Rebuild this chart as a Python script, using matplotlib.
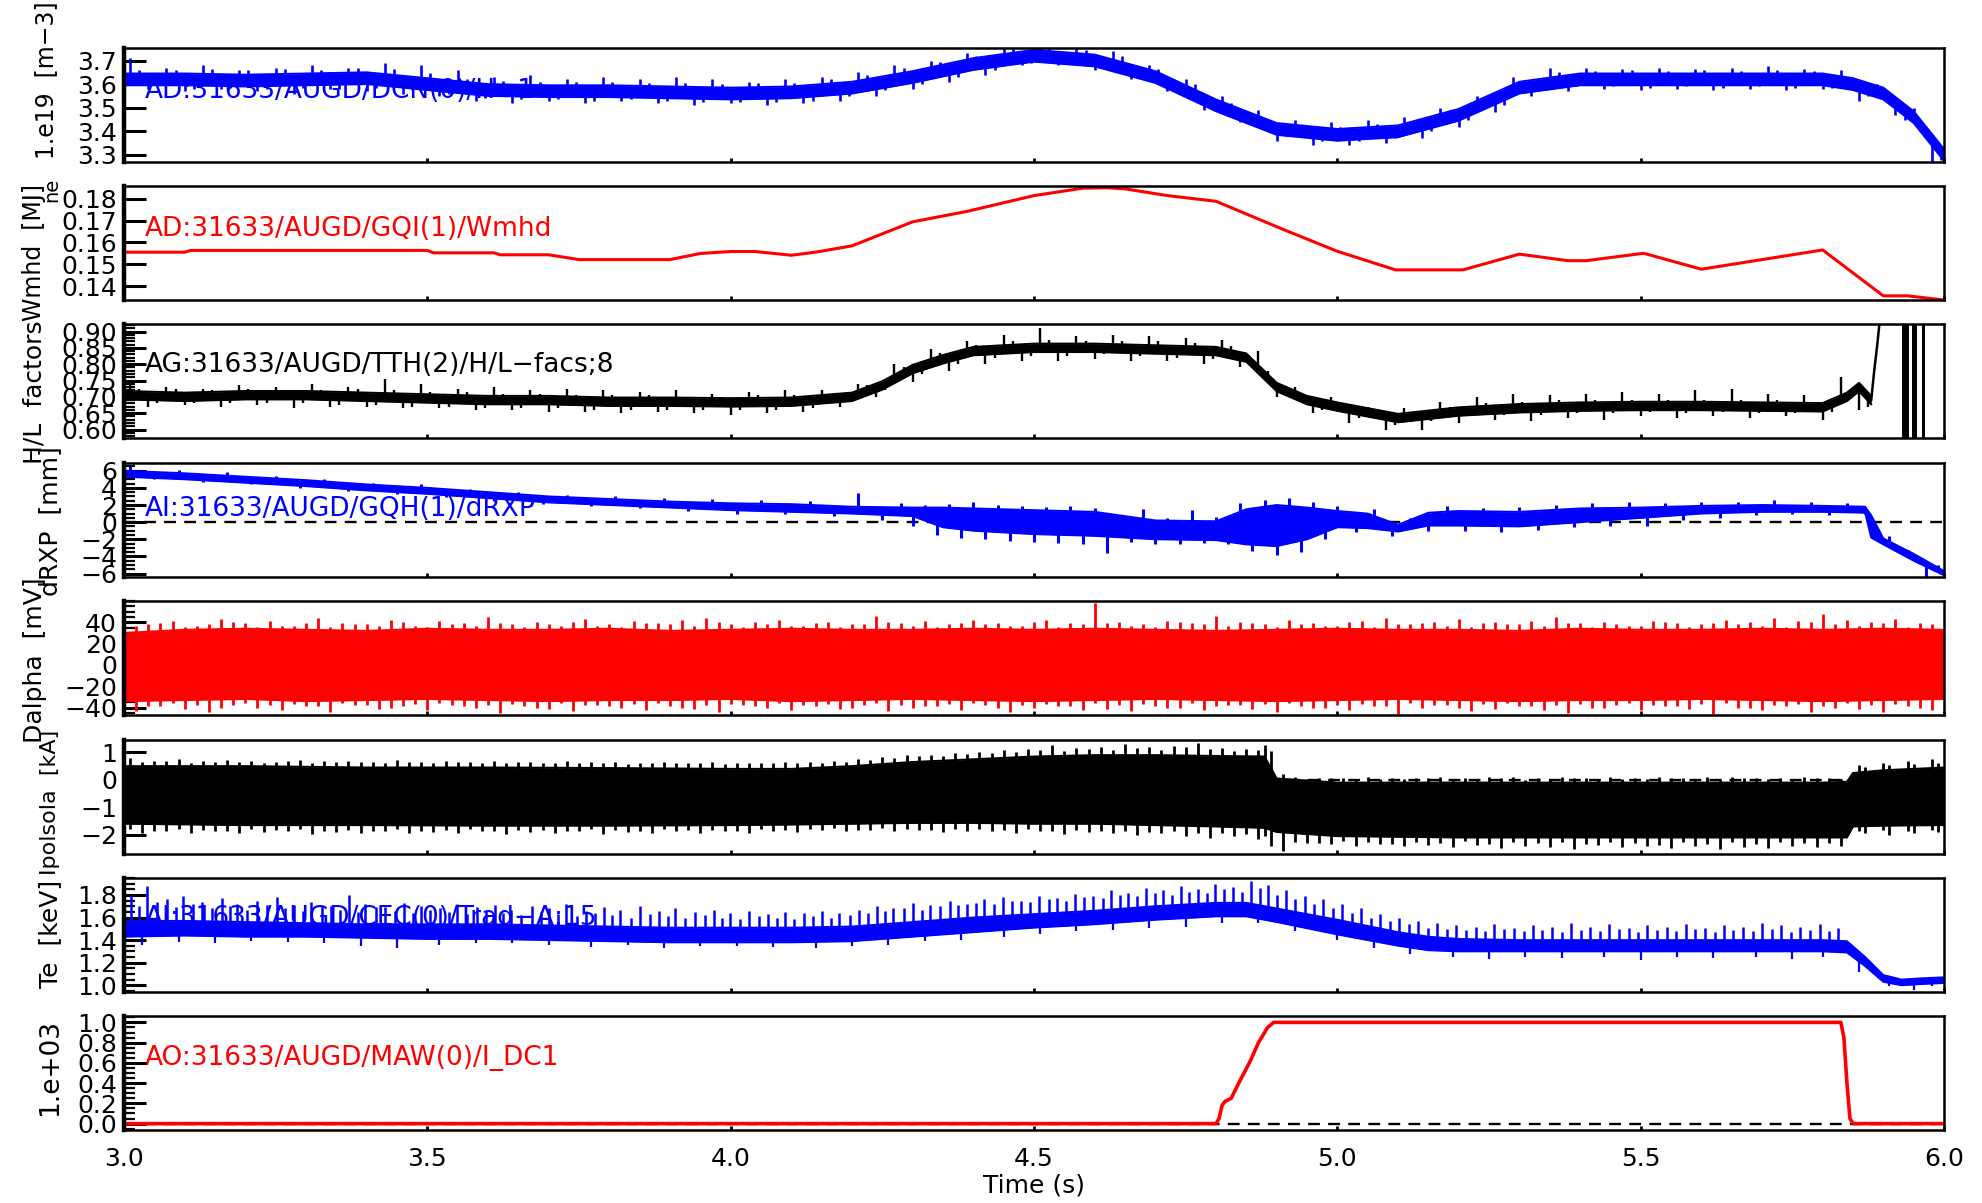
import numpy as np
import matplotlib.pyplot as plt
from matplotlib.ticker import MultipleLocator

plt.rcParams['font.family'] = ['DejaVu Sans']

# time axis
t_ticks = [3.0, 3.5, 4.0, 4.5, 5.0, 5.5, 6.0]
t_labels = ['3.0', '3.5', '4.0', '4.5', '5.0', '5.5', '6.0']

# line averaged density, DCN H-1 (1e19 m^-3)
ne_t = [3.0, 3.1, 3.2, 3.3, 3.4, 3.5, 3.6, 3.7, 3.8, 3.9, 4.0, 4.1, 4.2, 4.3, 4.4, 4.5, 4.6,
        4.7, 4.8, 4.9, 5.0, 5.1, 5.2, 5.3, 5.4, 5.5, 5.6, 5.7, 5.8, 5.85, 5.9, 5.95, 6.0]
ne_mid = [3.62, 3.62, 3.615, 3.62, 3.625, 3.60, 3.575, 3.57, 3.57, 3.565, 3.56, 3.565, 3.585,
          3.63, 3.685, 3.72, 3.70, 3.63, 3.51, 3.41, 3.385, 3.40, 3.47, 3.585, 3.62, 3.62,
          3.62, 3.62, 3.62, 3.60, 3.56, 3.46, 3.30]
ne_band = 0.025
# (time, value) of the noise excursions
ne_spk = [(3.01, 3.71), (3.04, 3.58), (3.07, 3.67), (3.10, 3.57), (3.13, 3.68), (3.16, 3.58),
          (3.19, 3.66), (3.22, 3.57), (3.25, 3.67), (3.28, 3.56), (3.31, 3.68), (3.34, 3.58),
          (3.37, 3.67), (3.40, 3.57), (3.43, 3.69), (3.46, 3.56), (3.49, 3.68), (3.52, 3.55),
          (3.55, 3.66), (3.58, 3.53), (3.61, 3.63), (3.64, 3.52), (3.67, 3.64), (3.70, 3.53),
          (3.73, 3.62), (3.76, 3.52), (3.79, 3.63), (3.82, 3.53), (3.85, 3.62), (3.88, 3.52),
          (3.91, 3.63), (3.94, 3.51), (3.97, 3.62), (4.00, 3.52), (4.03, 3.61), (4.06, 3.51),
          (4.09, 3.62), (4.12, 3.52), (4.15, 3.63), (4.18, 3.53), (4.21, 3.65), (4.24, 3.55),
          (4.27, 3.68), (4.30, 3.58), (4.33, 3.70), (4.36, 3.61), (4.39, 3.73), (4.42, 3.64),
          (4.45, 3.76), (4.48, 3.68), (4.51, 3.77), (4.54, 3.68), (4.57, 3.76), (4.60, 3.66),
          (4.63, 3.74), (4.66, 3.62), (4.69, 3.68), (4.72, 3.57), (4.75, 3.62), (4.78, 3.49),
          (4.81, 3.55), (4.84, 3.44), (4.87, 3.49), (4.90, 3.36), (4.93, 3.45), (4.96, 3.34),
          (4.99, 3.44), (5.02, 3.34), (5.05, 3.45), (5.08, 3.35), (5.11, 3.46), (5.14, 3.37),
          (5.17, 3.50), (5.20, 3.42), (5.23, 3.55), (5.26, 3.48), (5.29, 3.63), (5.32, 3.55),
          (5.35, 3.67), (5.38, 3.57), (5.41, 3.67), (5.44, 3.58), (5.47, 3.665), (5.50, 3.575),
          (5.53, 3.67), (5.56, 3.58), (5.59, 3.665), (5.62, 3.575), (5.65, 3.67), (5.68, 3.58),
          (5.71, 3.675), (5.74, 3.575), (5.77, 3.665), (5.80, 3.58), (5.83, 3.66), (5.86, 3.53),
          (5.89, 3.60), (5.92, 3.47), (5.95, 3.50), (5.98, 3.27)]
ne_spk2 = [(3.025, 3.66), (3.055, 3.59), (3.085, 3.66), (3.115, 3.58), (3.145, 3.665),
           (3.175, 3.585), (3.205, 3.66), (3.235, 3.58), (3.265, 3.665), (3.295, 3.585),
           (3.325, 3.66), (3.355, 3.58), (3.385, 3.67), (3.415, 3.585), (3.445, 3.665),
           (3.475, 3.575), (3.505, 3.645), (3.535, 3.56), (3.565, 3.62), (3.595, 3.54),
           (3.625, 3.615), (3.655, 3.535), (3.685, 3.61), (3.715, 3.535), (3.745, 3.61),
           (3.775, 3.53), (3.805, 3.61), (3.835, 3.535), (3.865, 3.605), (3.895, 3.53),
           (3.925, 3.605), (3.955, 3.525), (3.985, 3.60), (4.015, 3.525), (4.045, 3.605),
           (4.075, 3.525), (4.105, 3.605), (4.135, 3.53), (4.165, 3.62), (4.195, 3.55),
           (4.225, 3.64), (4.255, 3.575), (4.285, 3.67), (4.315, 3.60), (4.345, 3.695),
           (4.375, 3.63), (4.405, 3.72), (4.435, 3.66), (4.465, 3.75), (4.495, 3.69),
           (4.525, 3.755), (4.555, 3.69), (4.585, 3.745), (4.615, 3.67), (4.645, 3.72),
           (4.675, 3.63), (4.705, 3.665), (4.735, 3.57), (4.765, 3.60), (4.795, 3.49),
           (4.825, 3.52), (4.855, 3.43), (4.885, 3.45), (4.915, 3.38), (4.945, 3.42),
           (4.975, 3.36), (5.005, 3.42), (5.035, 3.36), (5.065, 3.43), (5.095, 3.37),
           (5.125, 3.44), (5.155, 3.40), (5.185, 3.49), (5.215, 3.45), (5.245, 3.55),
           (5.275, 3.51), (5.305, 3.61), (5.335, 3.575), (5.365, 3.65), (5.395, 3.59),
           (5.425, 3.655), (5.455, 3.59), (5.485, 3.66), (5.515, 3.585), (5.545, 3.655),
           (5.575, 3.59), (5.605, 3.66), (5.635, 3.585), (5.665, 3.655), (5.695, 3.59),
           (5.725, 3.66), (5.755, 3.585), (5.785, 3.655), (5.815, 3.585), (5.845, 3.63),
           (5.875, 3.55), (5.905, 3.56), (5.935, 3.45), (5.965, 3.42), (5.995, 3.28)]

# stored energy (MJ)
wmhd_t = [3.0, 3.1, 3.11, 3.50, 3.51, 3.61, 3.62, 3.70, 3.75, 3.90, 3.95, 4.0, 4.04, 4.10, 4.14,
          4.20, 4.30, 4.39, 4.50, 4.58, 4.62, 4.65, 4.72, 4.80, 4.91, 5.0, 5.096, 5.207, 5.30,
          5.38, 5.41, 5.505, 5.60, 5.80, 5.90, 5.94, 6.0]
wmhd_v = [0.1555, 0.1555, 0.1563, 0.1563, 0.1552, 0.1552, 0.1543, 0.1543, 0.1521, 0.1521,
          0.1549, 0.1558, 0.1558, 0.1541, 0.1555, 0.1584, 0.1694, 0.1742, 0.1814, 0.1848,
          0.1850, 0.1845, 0.1814, 0.1788, 0.1660, 0.1559, 0.1474, 0.1474, 0.1546, 0.1516,
          0.1516, 0.1550, 0.1477, 0.1565, 0.1355, 0.1355, 0.1336]

# H/L factors
hl_t = [3.0, 3.1, 3.2, 3.3, 3.4, 3.5, 3.6, 3.7, 3.8, 3.9, 4.0, 4.1, 4.2, 4.25, 4.3, 4.35, 4.4,
        4.5, 4.6, 4.7, 4.8, 4.85, 4.9, 4.95, 5.0, 5.1, 5.2, 5.3, 5.4, 5.5, 5.6, 5.7, 5.8, 5.84,
        5.86, 5.88]
hl_mid = [0.705, 0.700, 0.705, 0.705, 0.700, 0.695, 0.690, 0.690, 0.685, 0.685, 0.683, 0.685,
          0.700, 0.735, 0.785, 0.815, 0.840, 0.850, 0.850, 0.845, 0.840, 0.820, 0.730, 0.690,
          0.670, 0.635, 0.655, 0.665, 0.670, 0.672, 0.672, 0.670, 0.668, 0.700, 0.730, 0.690]
hl_band = 0.013
hl_end_t = [5.88, 5.885, 5.89, 5.895]
hl_end_v = [0.69, 0.78, 0.86, 0.95]
hl_bar_t0 = [5.930, 5.948, 5.964]
hl_bar_t1 = [5.943, 5.956, 5.969]
hl_spk = [(3.01, 0.74), (3.04, 0.67), (3.07, 0.73), (3.10, 0.675), (3.13, 0.725), (3.16, 0.67),
          (3.19, 0.735), (3.22, 0.675), (3.25, 0.73), (3.28, 0.665), (3.31, 0.74), (3.34, 0.67),
          (3.37, 0.73), (3.40, 0.67), (3.43, 0.755), (3.46, 0.665), (3.49, 0.74), (3.52, 0.665),
          (3.55, 0.725), (3.58, 0.66), (3.61, 0.73), (3.64, 0.66), (3.67, 0.72), (3.70, 0.655),
          (3.73, 0.725), (3.76, 0.655), (3.79, 0.72), (3.82, 0.65), (3.85, 0.715), (3.88, 0.655),
          (3.91, 0.72), (3.94, 0.65), (3.97, 0.71), (4.00, 0.645), (4.03, 0.715), (4.06, 0.65),
          (4.09, 0.72), (4.12, 0.655), (4.15, 0.72), (4.18, 0.67), (4.21, 0.74), (4.24, 0.70),
          (4.27, 0.80), (4.30, 0.745), (4.33, 0.845), (4.36, 0.78), (4.39, 0.87), (4.42, 0.80),
          (4.45, 0.89), (4.48, 0.81), (4.51, 0.91), (4.54, 0.81), (4.57, 0.885), (4.60, 0.815),
          (4.63, 0.89), (4.66, 0.81), (4.69, 0.885), (4.72, 0.81), (4.75, 0.88), (4.78, 0.80),
          (4.81, 0.875), (4.84, 0.79), (4.87, 0.84), (4.90, 0.70), (4.93, 0.73), (4.96, 0.65),
          (4.99, 0.70), (5.02, 0.62), (5.05, 0.67), (5.08, 0.60), (5.11, 0.665), (5.14, 0.60),
          (5.17, 0.685), (5.20, 0.62), (5.23, 0.70), (5.26, 0.63), (5.29, 0.71), (5.32, 0.625),
          (5.35, 0.705), (5.38, 0.635), (5.41, 0.71), (5.44, 0.63), (5.47, 0.715), (5.50, 0.64),
          (5.53, 0.71), (5.56, 0.635), (5.59, 0.72), (5.62, 0.64), (5.65, 0.725), (5.68, 0.635),
          (5.71, 0.71), (5.74, 0.64), (5.77, 0.705), (5.80, 0.63), (5.83, 0.76), (5.86, 0.66)]
hl_spk2 = [(3.025, 0.725), (3.055, 0.68), (3.085, 0.725), (3.115, 0.68), (3.145, 0.72),
           (3.175, 0.68), (3.205, 0.725), (3.235, 0.68), (3.265, 0.72), (3.295, 0.68),
           (3.325, 0.72), (3.355, 0.675), (3.385, 0.725), (3.415, 0.675), (3.445, 0.72),
           (3.475, 0.67), (3.505, 0.715), (3.535, 0.67), (3.565, 0.715), (3.595, 0.665),
           (3.625, 0.71), (3.655, 0.665), (3.685, 0.71), (3.715, 0.665), (3.745, 0.705),
           (3.775, 0.66), (3.805, 0.705), (3.835, 0.66), (3.865, 0.705), (3.895, 0.66),
           (3.925, 0.70), (3.955, 0.66), (3.985, 0.70), (4.015, 0.66), (4.045, 0.705),
           (4.075, 0.66), (4.105, 0.705), (4.135, 0.665), (4.165, 0.71), (4.195, 0.685),
           (4.225, 0.735), (4.255, 0.72), (4.285, 0.79), (4.315, 0.77), (4.345, 0.835),
           (4.375, 0.80), (4.405, 0.86), (4.435, 0.82), (4.465, 0.87), (4.495, 0.825),
           (4.525, 0.875), (4.555, 0.825), (4.585, 0.87), (4.615, 0.83), (4.645, 0.87),
           (4.675, 0.825), (4.705, 0.87), (4.735, 0.82), (4.765, 0.865), (4.795, 0.815),
           (4.825, 0.855), (4.855, 0.80), (4.885, 0.78), (4.915, 0.71), (4.945, 0.71),
           (4.975, 0.66), (5.005, 0.685), (5.035, 0.635), (5.065, 0.655), (5.095, 0.615),
           (5.125, 0.65), (5.155, 0.625), (5.185, 0.67), (5.215, 0.64), (5.245, 0.68),
           (5.275, 0.645), (5.305, 0.685), (5.335, 0.645), (5.365, 0.69), (5.395, 0.65),
           (5.425, 0.69), (5.455, 0.65), (5.485, 0.69), (5.515, 0.655), (5.545, 0.69),
           (5.575, 0.65), (5.605, 0.69), (5.635, 0.655), (5.665, 0.69), (5.695, 0.65),
           (5.725, 0.69), (5.755, 0.65), (5.785, 0.685), (5.815, 0.655), (5.845, 0.72),
           (5.875, 0.67)]

# dRXP (mm)
rxp_t = [3.0, 3.1, 3.2, 3.3, 3.4, 3.5, 3.6, 3.7, 3.8, 3.9, 4.0, 4.1, 4.2, 4.3, 4.35, 4.4, 4.5,
         4.6, 4.7, 4.8, 4.85, 4.9, 4.95, 5.0, 5.05, 5.1, 5.15, 5.2, 5.3, 5.4, 5.5, 5.6, 5.7,
         5.8, 5.87, 5.88, 5.9, 5.95, 6.0]
rxp_lo = [5.3, 5.0, 4.6, 4.2, 3.7, 3.3, 2.8, 2.3, 2.0, 1.7, 1.4, 1.2, 1.0, 0.7, -0.6, -1.0,
          -1.4, -1.6, -2.0, -2.1, -2.6, -2.8, -2.0, -0.6, -0.7, -1.1, -0.4, -0.4, -0.5, 0.0,
          0.5, 1.0, 1.2, 1.2, 1.1, -1.8, -2.6, -4.5, -6.2]
rxp_hi = [6.0, 5.7, 5.3, 4.9, 4.4, 4.0, 3.5, 3.0, 2.7, 2.4, 2.2, 2.1, 1.8, 1.7, 1.7, 1.6, 1.4,
          1.2, 0.2, 0.1, 1.5, 2.0, 1.7, 1.3, 1.0, -0.3, 1.1, 1.3, 1.2, 1.6, 1.7, 1.9, 2.0, 1.9,
          1.8, 0.8, -1.9, -3.7, -5.7]
rxp_spk = [(3.01, 6.6), (3.05, 5.0), (3.09, 6.1), (3.13, 4.7), (3.17, 5.8), (3.21, 4.4),
           (3.25, 5.4), (3.29, 4.0), (3.33, 5.0), (3.37, 3.6), (3.41, 4.6), (3.45, 3.3),
           (3.49, 4.4), (3.53, 2.9), (3.57, 3.9), (3.61, 2.5), (3.65, 3.5), (3.69, 2.1),
           (3.73, 3.2), (3.77, 1.9), (3.81, 3.0), (3.85, 1.6), (3.89, 2.8), (3.93, 1.3),
           (3.97, 2.7), (4.01, 1.0), (4.05, 2.6), (4.09, 0.9), (4.13, 2.5), (4.17, 0.7),
           (4.21, 3.4), (4.25, 0.3), (4.28, 2.2), (4.30, -0.5), (4.32, 2.0), (4.34, -1.5),
           (4.36, 2.1), (4.38, -1.8), (4.40, 2.4), (4.42, -2.0), (4.44, 2.0), (4.46, -2.2),
           (4.48, 1.9), (4.50, -2.3), (4.52, 1.8), (4.54, -2.4), (4.56, 1.9), (4.58, -2.5),
           (4.60, 1.6), (4.62, -3.6), (4.64, 0.8), (4.66, -2.3), (4.68, 1.5), (4.70, -2.5),
           (4.72, 0.5), (4.74, -2.6), (4.76, 1.4), (4.78, -2.4), (4.80, 0.6), (4.82, -2.6),
           (4.84, 2.2), (4.86, -3.4), (4.88, 2.6), (4.90, -3.8), (4.92, 2.8), (4.94, -3.5),
           (4.96, 2.4), (4.98, -2.0), (5.00, 1.9), (5.03, -1.2), (5.06, 1.5), (5.09, -1.6),
           (5.12, 0.5), (5.15, -1.0), (5.18, 1.9), (5.21, -1.0), (5.24, 1.7), (5.27, -1.1),
           (5.30, 1.8), (5.33, -0.9), (5.36, 2.0), (5.39, -0.6), (5.42, 2.2), (5.45, -0.5),
           (5.48, 2.3), (5.51, -0.4), (5.54, 2.2), (5.57, 0.2), (5.60, 2.4), (5.63, 0.5),
           (5.66, 2.4), (5.69, 0.8), (5.72, 2.6), (5.75, 0.9), (5.78, 2.3), (5.81, 0.8),
           (5.84, 2.2), (5.87, 0.9), (5.91, -1.6), (5.94, -3.2), (5.97, -6.8), (5.99, -5.0)]

# D-alpha (mV)
da_t = [3.0, 3.1, 3.2, 3.3, 3.4, 3.5, 3.6, 3.7, 3.8, 3.9, 4.0, 4.1, 4.2, 4.3, 4.4, 4.5, 4.6,
        4.7, 4.8, 4.9, 5.0, 5.1, 5.2, 5.3, 5.4, 5.5, 5.6, 5.7, 5.8, 5.9, 6.0]
da_hi = [30, 33, 34, 33, 32, 34, 33, 33, 34, 32, 33, 34, 33, 33, 34, 33, 34, 33, 32, 33, 34,
         33, 33, 32, 34, 33, 33, 34, 33, 34, 33]
da_lo = [-34, -33, -32, -34, -33, -32, -33, -34, -33, -33, -32, -34, -33, -32, -33, -34, -33,
         -32, -33, -34, -33, -32, -33, -34, -33, -33, -32, -33, -34, -33, -32]
da_up = [(3.00, 46), (3.04, 38), (3.08, 41), (3.12, 37), (3.16, 43), (3.20, 39), (3.24, 41),
         (3.28, 37), (3.32, 44), (3.36, 39), (3.40, 38), (3.44, 42), (3.48, 37), (3.52, 41),
         (3.56, 39), (3.60, 45), (3.64, 38), (3.68, 40), (3.72, 37), (3.76, 43), (3.80, 38),
         (3.84, 41), (3.88, 39), (3.92, 42), (3.96, 44), (4.00, 38), (4.04, 40), (4.08, 42),
         (4.12, 37), (4.16, 40), (4.20, 38), (4.24, 46), (4.28, 39), (4.32, 41), (4.36, 38),
         (4.40, 42), (4.44, 39), (4.48, 37), (4.52, 42), (4.56, 39), (4.60, 58), (4.64, 40),
         (4.68, 38), (4.72, 41), (4.76, 39), (4.80, 46), (4.84, 40), (4.88, 38), (4.92, 42),
         (4.96, 39), (5.00, 37), (5.04, 41), (5.08, 44), (5.12, 38), (5.16, 40), (5.20, 43),
         (5.24, 39), (5.28, 38), (5.32, 41), (5.36, 45), (5.40, 39), (5.44, 40), (5.48, 37),
         (5.52, 41), (5.56, 39), (5.60, 38), (5.64, 42), (5.68, 40), (5.72, 44), (5.76, 41),
         (5.80, 48), (5.84, 42), (5.88, 40), (5.92, 43), (5.96, 39)]
da_dn = [(3.02, -43), (3.06, -39), (3.10, -41), (3.14, -44), (3.18, -38), (3.22, -40),
         (3.26, -42), (3.30, -39), (3.34, -44), (3.38, -38), (3.42, -41), (3.46, -39),
         (3.50, -42), (3.54, -38), (3.58, -40), (3.62, -45), (3.66, -39), (3.70, -41),
         (3.74, -43), (3.78, -38), (3.82, -40), (3.86, -42), (3.90, -39), (3.94, -41),
         (3.98, -44), (4.02, -38), (4.06, -40), (4.10, -42), (4.14, -39), (4.18, -41),
         (4.22, -38), (4.26, -43), (4.30, -40), (4.34, -39), (4.38, -42), (4.42, -38),
         (4.46, -44), (4.50, -40), (4.54, -39), (4.58, -42), (4.62, -41), (4.66, -43),
         (4.70, -39), (4.74, -40), (4.78, -42), (4.82, -38), (4.86, -41), (4.90, -44),
         (4.94, -39), (4.98, -40), (5.02, -42), (5.06, -39), (5.10, -46), (5.14, -40),
         (5.18, -38), (5.22, -43), (5.26, -41), (5.30, -39), (5.34, -42), (5.38, -45),
         (5.42, -40), (5.46, -38), (5.50, -42), (5.54, -39), (5.58, -41), (5.62, -46),
         (5.66, -40), (5.70, -42), (5.74, -39), (5.78, -44), (5.82, -40), (5.86, -41),
         (5.90, -44), (5.94, -39), (5.98, -42)]
# smaller excursions in between (same sample times, opposite sign)
da_up2_v = [37, 39, 36, 38, 40, 36, 37, 39, 36, 38, 37, 40, 36, 38, 37, 39, 36, 38, 40, 37,
            36, 39, 38, 37, 40, 36, 38, 37, 39, 36, 38, 40, 37, 36, 39, 38, 37, 40, 36, 38,
            39, 37, 36, 40, 38, 37, 39, 36, 38, 37, 40, 36, 38, 39, 37, 36, 40, 38, 37, 39,
            36, 38, 37, 40, 36, 39, 38, 37, 36, 40, 38, 37, 39, 36, 38]
da_dn2_v = [-37, -39, -36, -38, -40, -36, -38, -37, -39, -36, -38, -40, -37, -36, -39, -38,
            -37, -40, -36, -38, -39, -37, -36, -40, -38, -37, -39, -36, -38, -37, -40, -36,
            -38, -39, -37, -36, -40, -38, -37, -39, -36, -38, -37, -40, -36, -39, -38, -37,
            -36, -40, -38, -37, -39, -36, -38, -40, -37, -36, -39, -38, -37, -40, -36, -38,
            -39, -37, -36, -40, -38, -37, -39, -36, -38, -37, -40]

# Ipolsola (kA)
ip_t = [3.0, 3.2, 3.4, 3.6, 3.8, 4.0, 4.1, 4.2, 4.3, 4.4, 4.5, 4.6, 4.7, 4.8, 4.88, 4.9, 5.0,
        5.2, 5.4, 5.6, 5.8, 5.84, 5.85, 5.9, 6.0]
ip_hi = [0.50, 0.50, 0.45, 0.45, 0.43, 0.40, 0.40, 0.50, 0.65, 0.75, 0.85, 0.90, 0.90, 0.87,
         0.85, 0.05, -0.10, -0.10, -0.10, -0.10, -0.10, -0.07, 0.25, 0.35, 0.45]
ip_lo = [-1.60, -1.65, -1.65, -1.67, -1.67, -1.65, -1.63, -1.60, -1.57, -1.57, -1.60, -1.60,
         -1.65, -1.70, -1.75, -1.90, -2.05, -2.10, -2.10, -2.10, -2.10, -2.10, -1.70, -1.67,
         -1.65]
ip_up = [(3.01, 0.80), (3.05, 0.70), (3.09, 0.75), (3.13, 0.68), (3.17, 0.72), (3.21, 0.70),
         (3.25, 0.66), (3.29, 0.74), (3.33, 0.68), (3.37, 0.70), (3.41, 0.65), (3.45, 0.72),
         (3.49, 0.66), (3.53, 0.69), (3.57, 0.64), (3.61, 0.70), (3.65, 0.66), (3.69, 0.63),
         (3.73, 0.68), (3.77, 0.64), (3.81, 0.66), (3.85, 0.62), (3.89, 0.66), (3.93, 0.61),
         (3.97, 0.64), (4.01, 0.60), (4.05, 0.62), (4.09, 0.64), (4.13, 0.66), (4.17, 0.70),
         (4.21, 0.75), (4.25, 0.82), (4.29, 0.90), (4.33, 0.92), (4.37, 0.98), (4.41, 1.02),
         (4.45, 1.08), (4.49, 1.12), (4.53, 1.25), (4.57, 1.15), (4.61, 1.20), (4.65, 1.30),
         (4.69, 1.18), (4.73, 1.22), (4.77, 1.35), (4.81, 1.15), (4.85, 1.12), (4.88, 1.25),
         (4.93, 0.10), (4.97, 0.05), (5.01, 0.08), (5.05, 0.10), (5.09, 0.05), (5.13, 0.08),
         (5.17, 0.10), (5.21, 0.06), (5.25, 0.09), (5.29, 0.12), (5.33, 0.07), (5.37, 0.09),
         (5.41, 0.05), (5.45, 0.10), (5.49, 0.07), (5.53, 0.10), (5.57, 0.06), (5.61, 0.09),
         (5.65, 0.11), (5.69, 0.06), (5.73, 0.08), (5.77, 0.10), (5.81, 0.07), (5.86, 0.55),
         (5.90, 0.60), (5.94, 0.68), (5.98, 0.75)]
ip_dn = [(3.03, -1.95), (3.07, -1.88), (3.11, -1.92), (3.15, -1.85), (3.19, -1.95),
         (3.23, -1.90), (3.27, -1.87), (3.31, -1.96), (3.35, -1.89), (3.39, -1.93),
         (3.43, -1.86), (3.47, -1.95), (3.51, -1.90), (3.55, -1.94), (3.59, -1.88),
         (3.63, -1.97), (3.67, -1.90), (3.71, -1.93), (3.75, -1.87), (3.79, -1.96),
         (3.83, -1.90), (3.87, -1.94), (3.91, -1.88), (3.95, -1.93), (3.99, -1.87),
         (4.03, -1.92), (4.07, -1.86), (4.11, -1.90), (4.15, -1.84), (4.19, -1.88),
         (4.23, -1.83), (4.27, -1.87), (4.31, -1.82), (4.35, -1.90), (4.39, -1.85),
         (4.43, -1.88), (4.47, -1.92), (4.51, -1.87), (4.55, -1.97), (4.59, -1.90),
         (4.63, -1.95), (4.67, -2.02), (4.71, -1.95), (4.75, -2.05), (4.79, -2.10),
         (4.83, -2.05), (4.87, -2.15), (4.89, -2.40), (4.91, -2.60), (4.95, -2.30),
         (4.99, -2.35), (5.03, -2.40), (5.07, -2.32), (5.11, -2.42), (5.15, -2.38),
         (5.19, -2.45), (5.23, -2.36), (5.27, -2.48), (5.31, -2.40), (5.35, -2.45),
         (5.39, -2.50), (5.43, -2.38), (5.47, -2.46), (5.51, -2.42), (5.55, -2.48),
         (5.59, -2.40), (5.63, -2.50), (5.67, -2.43), (5.71, -2.47), (5.75, -2.40),
         (5.79, -2.45), (5.83, -2.42), (5.87, -1.95), (5.91, -2.00), (5.95, -1.95),
         (5.99, -1.90)]
# upper excursions at the ip_dn sample times, lower ones at the ip_up times
ip_up2_v = [0.64, 0.68, 0.62, 0.66, 0.65, 0.63, 0.67, 0.62, 0.65, 0.64, 0.62, 0.66, 0.61, 0.64,
            0.63, 0.60, 0.65, 0.61, 0.63, 0.62, 0.59, 0.63, 0.60, 0.62, 0.58, 0.61, 0.60, 0.63,
            0.62, 0.66, 0.72, 0.80, 0.85, 0.88, 0.95, 0.98, 1.02, 1.08, 1.05, 1.12, 1.10, 1.15,
            1.08, 1.18, 1.12, 1.05, 1.10, 1.05, 0.20, 0.02, 0.05, 0.01, 0.04, 0.03, 0.06, 0.02,
            0.04, 0.05, 0.01, 0.03, 0.06, 0.02, 0.04, 0.03, 0.05, 0.01, 0.04, 0.06, 0.02, 0.03,
            0.05, 0.02, 0.48, 0.55, 0.58, 0.62]
ip_dn2_v = [-1.80, -1.85, -1.78, -1.83, -1.88, -1.80, -1.84, -1.79, -1.86, -1.82, -1.85, -1.80,
            -1.87, -1.83, -1.79, -1.86, -1.81, -1.84, -1.88, -1.80, -1.83, -1.86, -1.79, -1.84,
            -1.81, -1.85, -1.78, -1.82, -1.80, -1.77, -1.81, -1.76, -1.79, -1.82, -1.78, -1.80,
            -1.84, -1.79, -1.86, -1.82, -1.88, -1.85, -1.90, -1.87, -1.93, -1.95, -1.98, -2.05,
            -2.25, -2.30, -2.22, -2.28, -2.33, -2.26, -2.30, -2.24, -2.35, -2.28, -2.31, -2.25,
            -2.34, -2.27, -2.30, -2.36, -2.26, -2.32, -2.28, -2.35, -2.25, -2.31, -2.29, -1.85,
            -1.82, -1.88, -1.84]

# electron temperature (keV)
te_t = [3.0, 3.1, 3.2, 3.3, 3.4, 3.5, 3.6, 3.7, 3.8, 3.9, 4.0, 4.1, 4.2, 4.3, 4.4, 4.5, 4.6,
        4.7, 4.8, 4.85, 4.9, 5.0, 5.1, 5.15, 5.2, 5.3, 5.4, 5.5, 5.6, 5.7, 5.8, 5.84, 5.87,
        5.9, 5.93, 5.96, 6.0]
te_lo = [1.43, 1.44, 1.43, 1.43, 1.42, 1.41, 1.41, 1.40, 1.39, 1.38, 1.38, 1.38, 1.39, 1.43,
         1.47, 1.51, 1.54, 1.58, 1.61, 1.61, 1.56, 1.45, 1.35, 1.31, 1.30, 1.30, 1.30, 1.30,
         1.30, 1.30, 1.30, 1.29, 1.17, 1.03, 1.00, 1.01, 1.02]
te_hi = [1.57, 1.57, 1.56, 1.55, 1.54, 1.54, 1.54, 1.53, 1.52, 1.51, 1.51, 1.51, 1.52, 1.56,
         1.60, 1.63, 1.66, 1.70, 1.73, 1.73, 1.68, 1.58, 1.47, 1.43, 1.41, 1.40, 1.40, 1.40,
         1.40, 1.40, 1.40, 1.39, 1.25, 1.09, 1.05, 1.06, 1.07]
te_up_t = [3.012, 3.038, 3.071, 3.098, 3.129, 3.161, 3.187, 3.219, 3.252, 3.281, 3.309, 3.342,
           3.371, 3.398, 3.431, 3.462, 3.489, 3.521, 3.549, 3.582, 3.611, 3.638, 3.672, 3.701,
           3.729, 3.762, 3.791, 3.818, 3.851, 3.882, 3.909, 3.941, 3.972, 3.999, 4.031, 4.062,
           4.089, 4.121, 4.151, 4.179, 4.212, 4.241, 4.268, 4.301, 4.329, 4.361, 4.389, 4.418,
           4.449, 4.478, 4.509, 4.538, 4.567, 4.598, 4.627, 4.655, 4.684, 4.713, 4.742, 4.770,
           4.799, 4.828, 4.857, 4.886, 4.915, 4.946, 4.977, 5.008, 5.039, 5.071, 5.102, 5.133,
           5.165, 5.196, 5.228, 5.259, 5.291, 5.322, 5.354, 5.385, 5.417, 5.448, 5.480, 5.511,
           5.543, 5.574, 5.606, 5.637, 5.669, 5.700, 5.732, 5.763, 5.795, 5.826]
te_up_v = [1.80, 1.88, 1.76, 1.79, 1.74, 1.77, 1.72, 1.75, 1.78, 1.71, 1.74, 1.70, 1.80, 1.72,
           1.69, 1.73, 1.70, 1.68, 1.72, 1.69, 1.71, 1.67, 1.70, 1.68, 1.72, 1.66, 1.69, 1.67,
           1.70, 1.66, 1.68, 1.65, 1.67, 1.64, 1.66, 1.63, 1.65, 1.64, 1.66, 1.64, 1.67, 1.70,
           1.68, 1.73, 1.71, 1.75, 1.72, 1.76, 1.78, 1.75, 1.79, 1.77, 1.81, 1.79, 1.84, 1.82,
           1.86, 1.84, 1.88, 1.85, 1.90, 1.87, 1.92, 1.89, 1.84, 1.79, 1.76, 1.72, 1.68, 1.63,
           1.60, 1.57, 1.55, 1.53, 1.52, 1.54, 1.51, 1.53, 1.52, 1.55, 1.52, 1.54, 1.51, 1.53,
           1.52, 1.54, 1.51, 1.53, 1.52, 1.55, 1.53, 1.52, 1.54, 1.51]
te_up2 = [(3.025, 1.70), (3.055, 1.74), (3.085, 1.69), (3.113, 1.72), (3.145, 1.68),
          (3.174, 1.70), (3.203, 1.67), (3.236, 1.71), (3.266, 1.68), (3.295, 1.66),
          (3.326, 1.70), (3.356, 1.67), (3.385, 1.65), (3.415, 1.69), (3.447, 1.66),
          (3.476, 1.64), (3.505, 1.67), (3.535, 1.65), (3.566, 1.63), (3.597, 1.66),
          (3.625, 1.64), (3.655, 1.62), (3.687, 1.65), (3.715, 1.63), (3.746, 1.61),
          (3.777, 1.64), (3.805, 1.62), (3.835, 1.60), (3.867, 1.63), (3.896, 1.61),
          (3.925, 1.60), (3.957, 1.62), (3.986, 1.60), (4.015, 1.59), (4.047, 1.61),
          (4.076, 1.60), (4.105, 1.59), (4.136, 1.61), (4.165, 1.60), (4.196, 1.62),
          (4.227, 1.64), (4.255, 1.66), (4.285, 1.68), (4.315, 1.67), (4.345, 1.70),
          (4.375, 1.71), (4.404, 1.73), (4.434, 1.72), (4.464, 1.75), (4.494, 1.74),
          (4.524, 1.76), (4.553, 1.75), (4.583, 1.78), (4.613, 1.77), (4.641, 1.80),
          (4.670, 1.79), (4.699, 1.82), (4.728, 1.80), (4.756, 1.83), (4.785, 1.82),
          (4.814, 1.85), (4.843, 1.83), (4.872, 1.86), (4.900, 1.80), (4.931, 1.76),
          (4.962, 1.72), (4.993, 1.68), (5.024, 1.64), (5.055, 1.60), (5.087, 1.57),
          (5.118, 1.54), (5.149, 1.51), (5.181, 1.50), (5.212, 1.49), (5.244, 1.48),
          (5.275, 1.50), (5.307, 1.48), (5.338, 1.49), (5.370, 1.47), (5.401, 1.49),
          (5.433, 1.48), (5.464, 1.50), (5.496, 1.47), (5.527, 1.49), (5.559, 1.48),
          (5.590, 1.50), (5.622, 1.47), (5.653, 1.49), (5.685, 1.48), (5.716, 1.50),
          (5.748, 1.47), (5.779, 1.49), (5.811, 1.48)]
te_dn = [(3.03, 1.36), (3.09, 1.38), (3.15, 1.37), (3.21, 1.39), (3.27, 1.38), (3.33, 1.37),
         (3.39, 1.35), (3.45, 1.33), (3.52, 1.36), (3.58, 1.37), (3.64, 1.37), (3.70, 1.36),
         (3.77, 1.34), (3.83, 1.36), (3.89, 1.33), (3.95, 1.35), (4.01, 1.35), (4.07, 1.34),
         (4.14, 1.33), (4.20, 1.35), (4.26, 1.36), (4.32, 1.39), (4.38, 1.40), (4.45, 1.43),
         (4.51, 1.45), (4.57, 1.48), (4.63, 1.49), (4.69, 1.51), (4.75, 1.52), (4.81, 1.55),
         (4.87, 1.55), (4.93, 1.48), (5.00, 1.40), (5.06, 1.33), (5.12, 1.28), (5.19, 1.25),
         (5.25, 1.23), (5.31, 1.25), (5.37, 1.24), (5.44, 1.25), (5.50, 1.22), (5.56, 1.25),
         (5.62, 1.24), (5.69, 1.25), (5.75, 1.23), (5.80, 1.25), (5.86, 1.12), (5.91, 0.99),
         (5.95, 0.96), (5.98, 0.99)]

# I_DC1 (1e3)
dc_t = [3.0, 4.80, 4.805, 4.81, 4.815, 4.825, 4.84, 4.855, 4.87, 4.885, 4.895, 4.90, 5.2, 5.5,
        5.83, 5.835, 5.84, 5.845, 5.85, 6.0]
dc_v = [0.0, 0.0, 0.05, 0.18, 0.22, 0.25, 0.43, 0.60, 0.80, 0.95, 1.0, 1.0, 1.0, 1.0, 1.0,
        0.85, 0.40, 0.05, 0.0, 0.0]

BLUE = '#0000ff'
RED = '#ff0000'
BLACK = '#000000'

W_PX, H_PX = 1983, 1203
fig = plt.figure(figsize=(W_PX / 100, H_PX / 100), dpi=100)

left = 124 / W_PX
width = (1944 - 124) / W_PX
tops = [48, 186, 324, 463, 601, 740, 878, 1016]
hgt = 114


def make_axes(i, ylim, yticks, ylabels, minor=None):
    ax = fig.add_axes([left, 1 - (tops[i] + hgt) / H_PX, width, hgt / H_PX])
    ax.set_xlim(3.0, 6.0)
    ax.set_ylim(*ylim)
    ax.set_xticks(t_ticks)
    ax.set_yticks(yticks, ylabels)
    if minor:
        ax.yaxis.set_minor_locator(MultipleLocator(minor))
    for s in ['top', 'right', 'bottom']:
        ax.spines[s].set_linewidth(1.8)
    ax.spines['left'].set_linewidth(3.2)
    ax.tick_params(axis='y', which='major', direction='in', length=16, width=2.2,
                   labelsize=18, pad=5, right=False)
    ax.tick_params(axis='y', which='minor', direction='in', length=8, width=1.6, right=False)
    ax.tick_params(axis='x', which='both', direction='in', length=3, width=2,
                   labelbottom=False, top=False, labelsize=18)
    return ax


def band(ax, t, lo, hi, color):
    ax.fill_between(t, lo, hi, color=color, lw=0, zorder=2)
    ax.plot(t, lo, color=color, lw=1.4, zorder=2)
    ax.plot(t, hi, color=color, lw=1.4, zorder=2)


def spikes(ax, mid_t, mid_v, pts, color, lw=1.9):
    st, sv = np.array(pts).T
    base = np.interp(st, mid_t, mid_v)
    ax.vlines(st, base, sv, color=color, lw=lw, zorder=2)


def tag(ax, y, s, color):
    ax.text(3.035, y, s, color=color, fontsize=19, ha='left', va='center', zorder=1)


# ne
ax1 = make_axes(0, (3.27, 3.753), [3.3, 3.4, 3.5, 3.6, 3.7], ['3.3', '3.4', '3.5', '3.6', '3.7'])
tag(ax1, 3.57, 'AD:31633/AUGD/DCN(0)/H\u22121', BLUE)
mid = np.array(ne_mid)
band(ax1, ne_t, mid - ne_band, mid + ne_band, BLUE)
spikes(ax1, ne_t, ne_mid, ne_spk + ne_spk2, BLUE)

# Wmhd
ax2 = make_axes(1, (0.1336, 0.1858), [0.14, 0.15, 0.16, 0.17, 0.18],
                ['0.14', '0.15', '0.16', '0.17', '0.18'])
tag(ax2, 0.1661, 'AD:31633/AUGD/GQI(1)/Wmhd', RED)
ax2.plot(wmhd_t, wmhd_v, color=RED, lw=2.2, zorder=2)

# H/L factors
ax3 = make_axes(2, (0.574, 0.923), [0.60, 0.65, 0.70, 0.75, 0.80, 0.85, 0.90],
                ['0.60', '0.65', '0.70', '0.75', '0.80', '0.85', '0.90'], minor=0.01)
tag(ax3, 0.796, 'AG:31633/AUGD/TTH(2)/H/L\u2212facs;8', BLACK)
mid = np.array(hl_mid)
band(ax3, hl_t, mid - hl_band, mid + hl_band, BLACK)
spikes(ax3, hl_t, hl_mid, hl_spk + hl_spk2, BLACK, lw=1.7)
ax3.plot(hl_end_t, hl_end_v, color=BLACK, lw=1.8, zorder=2)
for a, b in zip(hl_bar_t0, hl_bar_t1):
    ax3.axvspan(a, b, color=BLACK, lw=0, zorder=2)

# dRXP
ax4 = make_axes(3, (-6.4, 6.9), [-6, -4, -2, 0, 2, 4, 6],
                ['\u22126', '\u22124', '\u22122', '0', '2', '4', '6'], minor=0.5)
tag(ax4, 1.55, 'AI:31633/AUGD/GQH(1)/dRXP', BLUE)
ax4.axhline(0, color=BLACK, lw=1.7, ls=(0, (5, 3.5)), zorder=1.5)
band(ax4, rxp_t, rxp_lo, rxp_hi, BLUE)
rxp_mid = (np.array(rxp_lo) + np.array(rxp_hi)) / 2
spikes(ax4, rxp_t, rxp_mid, rxp_spk, BLUE, lw=2.2)

# D-alpha
ax5 = make_axes(4, (-47, 60), [-40, -20, 0, 20, 40],
                ['\u221240', '\u221220', '0', '20', '40'], minor=5)
band(ax5, da_t, da_lo, da_hi, RED)
da_mid = (np.array(da_lo) + np.array(da_hi)) / 2
da_up2 = [(t, v) for (t, _), v in zip(da_dn, da_up2_v)]
da_dn2 = [(t, v) for (t, _), v in zip(da_up, da_dn2_v)]
spikes(ax5, da_t, da_mid, da_up + da_dn + da_up2 + da_dn2, RED, lw=2.0)

# Ipolsola
ax6 = make_axes(5, (-2.7, 1.45), [-2, -1, 0, 1], ['\u22122', '\u22121', '0', '1'])
ax6.axhline(0, color=BLACK, lw=1.7, ls=(0, (5, 3.5)), zorder=1.5)
band(ax6, ip_t, ip_lo, ip_hi, BLACK)
ip_mid = (np.array(ip_lo) + np.array(ip_hi)) / 2
ip_up2 = [(t, v) for (t, _), v in zip(ip_dn, ip_up2_v)]
ip_dn2 = [(t, v) for (t, _), v in zip(ip_up, ip_dn2_v)]
spikes(ax6, ip_t, ip_mid, ip_up + ip_dn + ip_up2 + ip_dn2, BLACK, lw=2.0)

# Te
ax7 = make_axes(6, (0.94, 1.95), [1.0, 1.2, 1.4, 1.6, 1.8],
                ['1.0', '1.2', '1.4', '1.6', '1.8'], minor=0.05)
tag(ax7, 1.597, 'AI:31633/AUGD/CEC(0)/Trad\u2212A;15', BLUE)
band(ax7, te_t, te_lo, te_hi, BLUE)
te_mid = (np.array(te_lo) + np.array(te_hi)) / 2
spikes(ax7, te_t, te_mid, list(zip(te_up_t, te_up_v)) + te_up2, BLUE, lw=1.8)
spikes(ax7, te_t, te_mid, te_dn, BLUE, lw=1.6)

# I_DC1
ax8 = make_axes(7, (-0.063, 1.063), [0.0, 0.2, 0.4, 0.6, 0.8, 1.0],
                ['0.0', '0.2', '0.4', '0.6', '0.8', '1.0'], minor=0.05)
tag(ax8, 0.646, 'AO:31633/AUGD/MAW(0)/I_DC1', RED)
ax8.axhline(0, color=BLACK, lw=1.7, ls=(0, (5, 3.5)), zorder=1.5)
ax8.plot(dc_t, dc_v, color=RED, lw=2.6, zorder=2)
ax8.set_xticks(t_ticks, t_labels)
ax8.tick_params(axis='x', labelbottom=True, pad=12)

# y titles, placed in figure pixels
ylabels = [
    ('1.e19  [m\u22123]', 46, 80, 17),
    ('ne', 52, 190, 14),
    ('Wmhd  [MJ]', 34, 252, 17),
    ('H/L  factors', 34, 392, 18),
    ('dRXP  [mm]', 50, 521, 18),
    ('Dalpha  [mV]', 35, 660, 18),
    ('Ipolsola  [kA]', 50, 802, 16),
    ('Te  [keV]', 50, 934, 18),
    ('1.e+03', 50, 1067, 19),
]
for s, x, y, fs in ylabels:
    fig.text(x / W_PX, 1 - y / H_PX, s, rotation=90, ha='center', va='center', fontsize=fs)

fig.text(1034 / W_PX, 1 - 1186 / H_PX, 'Time (s)', ha='center', va='center', fontsize=18)

fig.savefig('out.png', dpi=100)
